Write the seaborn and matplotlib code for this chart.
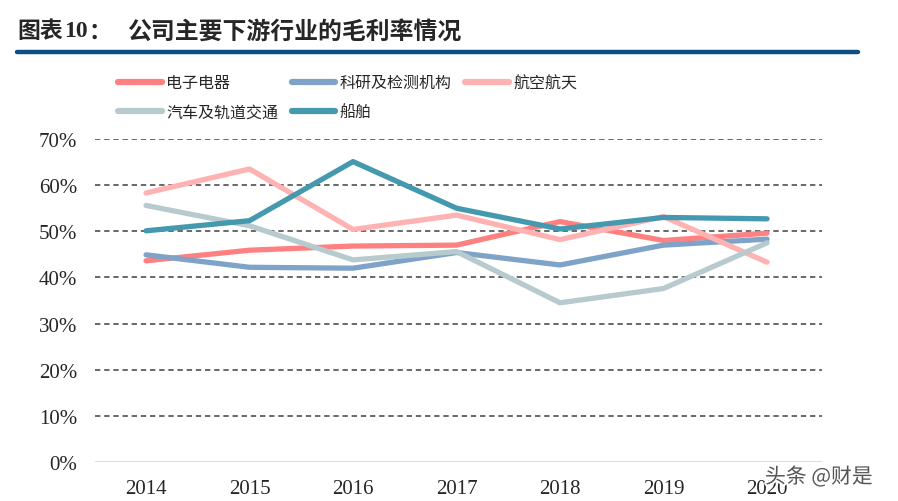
import pandas as pd
import matplotlib
matplotlib.use('Agg')
import matplotlib.pyplot as plt
import matplotlib.patheffects as pe
from matplotlib.lines import Line2D
import seaborn as sns

# data (gross margin, %)
years = [2014, 2015, 2016, 2017, 2018, 2019, 2020]
electronics = [43.6, 45.9, 46.8, 47.0, 52.1, 48.0, 49.6]
research = [44.9, 42.2, 42.0, 45.4, 42.7, 47.0, 48.3]
aerospace = [58.3, 63.5, 50.4, 53.5, 48.2, 53.2, 43.3]
auto_rail = [55.6, 51.2, 43.8, 45.6, 34.5, 37.6, 47.5]
ships = [50.1, 52.3, 65.1, 55.0, 50.5, 53.0, 52.7]

names = ['电子电器', '科研及检测机构', '航空航天', '汽车及轨道交通', '船舶']
colors = ['#FF8080', '#7FA3C8', '#FFB2B2', '#B7CACD', '#4499AF']
yticks = [0, 10, 20, 30, 40, 50, 60, 70]

df = pd.DataFrame({'year': years, names[0]: electronics, names[1]: research,
                   names[2]: aerospace, names[3]: auto_rail, names[4]: ships})
df = df.melt(id_vars='year', var_name='industry', value_name='margin')

sns.set_style('white')
plt.rcParams['font.family'] = ['Noto Sans CJK SC', 'DejaVu Sans']

fig = plt.figure(figsize=(8.98, 5.02), dpi=100)
ax = fig.add_axes([95/898, 1-463/502, 727/898, 323/502])

# grid lines
for v in yticks[1:]:
    ax.axhline(v, color='#404040', lw=1.1, ls=(0, (3.5, 2.5)), zorder=0)
ax.axhline(0, color='#D9D9D9', lw=2, zorder=0)

sns.lineplot(data=df, x='year', y='margin', hue='industry', hue_order=names,
             palette=colors, lw=3.8, ax=ax, legend=False,
             solid_capstyle='round', solid_joinstyle='round')

ax.set_xlim(2013.507, 2020.531)
ax.set_ylim(0, 70)
ax.set_xticks(years)
ax.set_yticks(yticks)
ax.set_yticklabels([f'{v}%' for v in yticks])
ax.set_xlabel('')
ax.set_ylabel('')
for s in ax.spines.values():
    s.set_visible(False)
ax.tick_params(axis='both', length=0, labelsize=15)
ax.tick_params(axis='y', pad=13)
ax.tick_params(axis='x', pad=12)
for lab in ax.get_xticklabels() + ax.get_yticklabels():
    lab.set_family('Liberation Serif')

# legend, row-major order over 3 columns
order = [0, 3, 1, 4, 2]
handles = [Line2D([], [], color=colors[i], lw=4.5, solid_capstyle='round') for i in order]
fig.legend(handles, [names[i] for i in order], ncol=3, frameon=False,
           loc='upper left', bbox_to_anchor=(112/898, 1-69/502),
           fontsize=11.5, handlelength=2.7, handletextpad=0.3,
           columnspacing=0.85, labelspacing=0.75, borderaxespad=0)

# title and rule
ty = 1 - 32/502
fig.text(17/898, ty, '图表', fontsize=16.5, fontweight='bold', va='center')
fig.text(64/898, ty, '10', fontsize=17, fontweight='bold', va='center',
         family='Liberation Serif')
fig.text(88/898, ty, '：', fontsize=16.5, fontweight='bold', va='center')
fig.text(127/898, ty, '公司主要下游行业的毛利率情况', fontsize=17.2,
         fontweight='bold', va='center')
fig.add_artist(Line2D([17/898, 858/898], [1-53/502, 1-53/502], color='#0B4F84', lw=3.2))

# watermark
fig.text(765/898, 1-478/502, '头条 @财是', fontsize=15, color='#555555', va='center',
         path_effects=[pe.withStroke(linewidth=3, foreground='white')])

fig.savefig('out.png', dpi=100)
